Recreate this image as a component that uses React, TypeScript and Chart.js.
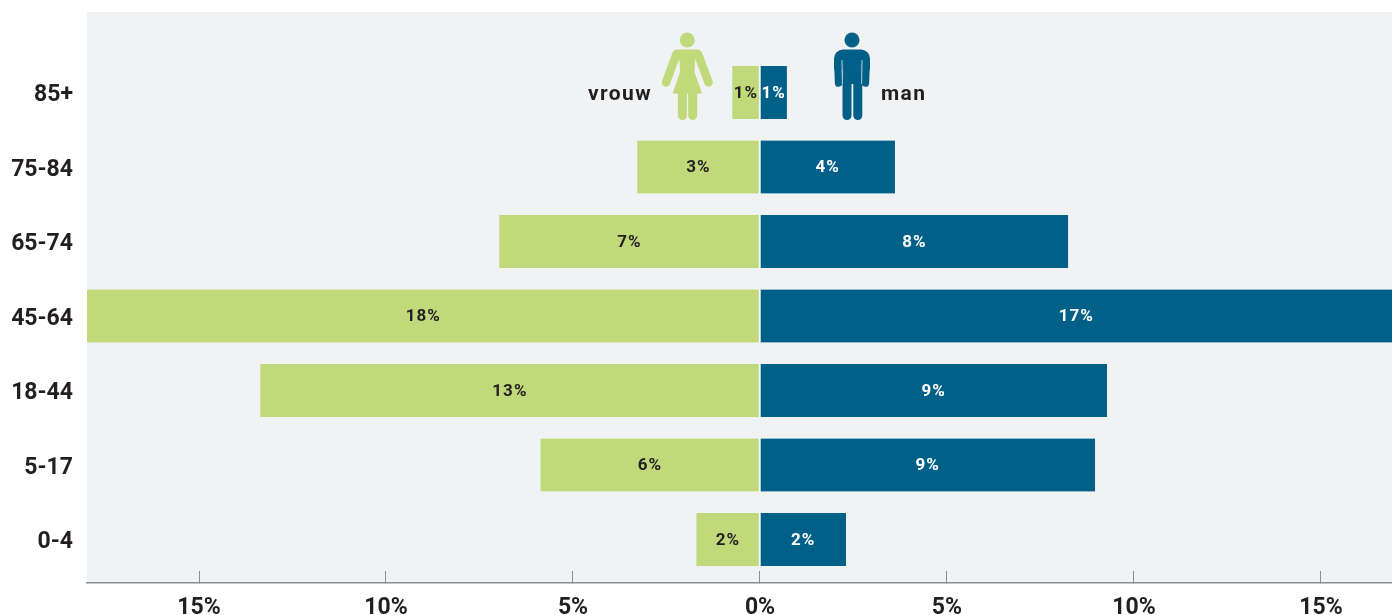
import React, { useEffect, useRef } from "react";
import { Chart, registerables } from "chart.js";

Chart.register(...registerables);

const ageGroups = ["85+", "75-84", "65-74", "45-64", "18-44", "5-17", "0-4"];
const womenShare = [0.74, 3.28, 6.97, 18.0, 13.36, 5.87, 1.7];
const menShare = [0.72, 3.61, 8.24, 17.0, 9.28, 8.96, 2.3];
const womenLabels = ["1%", "3%", "7%", "18%", "13%", "6%", "2%"];
const menLabels = ["1%", "4%", "8%", "17%", "9%", "9%", "2%"];
const axisTicks = [-15, -10, -5, 0, 5, 10, 15];

const GREEN = "#c0da7b";
const BLUE = "#006088";
const PANEL = "#f1f2f4";
const INK = "#231f20";
const AXIS = "#8a8c8e";
const FONT = "Roboto, sans-serif";

const panelPlugin = {
  id: "panel",
  beforeDraw(chart: any) {
    const { ctx, chartArea: a } = chart;
    ctx.save();
    ctx.fillStyle = PANEL;
    ctx.fillRect(a.left, a.top, a.right - a.left, a.bottom - a.top);
    ctx.restore();
  },
};

function drawWoman(ctx: CanvasRenderingContext2D) {
  ctx.save();
  ctx.fillStyle = GREEN;
  ctx.strokeStyle = GREEN;
  ctx.lineCap = "round";
  ctx.beginPath();
  ctx.arc(687.3, 40, 7.5, 0, Math.PI * 2);
  ctx.fill();
  ctx.lineWidth = 8.5;
  ctx.beginPath();
  ctx.moveTo(676.5, 54);
  ctx.lineTo(666, 82.5);
  ctx.moveTo(698, 54);
  ctx.lineTo(708.6, 82.5);
  ctx.stroke();
  ctx.beginPath();
  ctx.moveTo(676, 49.5);
  ctx.lineTo(698.5, 49.5);
  ctx.lineTo(695, 61);
  ctx.lineTo(694.5, 72);
  ctx.lineTo(702, 93.5);
  ctx.lineTo(672.7, 93.5);
  ctx.lineTo(680, 72);
  ctx.lineTo(679.5, 61);
  ctx.closePath();
  ctx.fill();
  ctx.lineWidth = 9;
  ctx.beginPath();
  ctx.moveTo(682.4, 93);
  ctx.lineTo(682.4, 115.5);
  ctx.moveTo(692.7, 93);
  ctx.lineTo(692.7, 115.5);
  ctx.stroke();
  ctx.restore();
}

function drawMan(ctx: CanvasRenderingContext2D) {
  ctx.save();
  ctx.fillStyle = BLUE;
  ctx.strokeStyle = BLUE;
  ctx.lineCap = "round";
  ctx.beginPath();
  ctx.arc(852, 40, 7.5, 0, Math.PI * 2);
  ctx.fill();
  ctx.beginPath();
  ctx.roundRect(834, 49.5, 36, 20, [9, 9, 0, 0]);
  ctx.fill();
  ctx.fillRect(842.5, 60, 20, 24);
  ctx.lineWidth = 7.5;
  ctx.beginPath();
  ctx.moveTo(837.8, 62);
  ctx.lineTo(838.6, 83);
  ctx.moveTo(866.2, 62);
  ctx.lineTo(865.4, 83);
  ctx.stroke();
  ctx.lineWidth = 9;
  ctx.beginPath();
  ctx.moveTo(847, 80);
  ctx.lineTo(847, 115.5);
  ctx.moveTo(857.8, 80);
  ctx.lineTo(857.8, 115.5);
  ctx.stroke();
  ctx.strokeStyle = "#b9cfdb";
  ctx.lineWidth = 1;
  ctx.lineCap = "butt";
  ctx.beginPath();
  ctx.moveTo(842, 60);
  ctx.lineTo(842.4, 84);
  ctx.moveTo(862, 60);
  ctx.lineTo(861.6, 84);
  ctx.stroke();
  ctx.restore();
}

const annotationPlugin = {
  id: "annotations",
  afterDatasetsDraw(chart: any) {
    const { ctx } = chart;
    ctx.save();
    ctx.textBaseline = "middle";
    ctx.textAlign = "center";
    ctx.font = `700 17px ${FONT}`;
    (ctx as any).letterSpacing = "1px";
    const lists = [womenLabels, menLabels];
    const colors = [INK, "#ffffff"];
    const area = chart.chartArea;
    chart.data.datasets.forEach((_: any, d: number) => {
      chart.getDatasetMeta(d).data.forEach((bar: any, i: number) => {
        const { x, base, y } = bar.getProps(["x", "base", "y"], true);
        const edge = Math.min(area.right, Math.max(area.left, x));
        ctx.fillStyle = colors[d];
        ctx.fillText(lists[d][i], (edge + base) / 2, y + 1);
      });
    });
    ctx.font = `700 21px ${FONT}`;
    (ctx as any).letterSpacing = "1.4px";
    ctx.fillStyle = INK;
    ctx.textAlign = "left";
    ctx.fillText(chart.data.datasets[0].label, 588, 95);
    ctx.fillText(chart.data.datasets[1].label, 881, 95);
    ctx.restore();
    drawWoman(ctx);
    drawMan(ctx);
  },
};

const clearScalePadding = (s: any) => {
  s.paddingTop = 0;
  s.paddingBottom = 0;
  s.paddingLeft = 0;
  s.paddingRight = 0;
};

export default function App() {
  const ref = useRef<HTMLCanvasElement | null>(null);

  useEffect(() => {
    const chart = new Chart(ref.current as HTMLCanvasElement, {
      type: "bar",
      data: {
        datasets: [
          {
            label: "vrouw",
            data: womenShare.map((v, i) => ({ x: -v, y: i })),
            backgroundColor: GREEN,
            borderColor: "#ffffff",
            borderWidth: { right: 1 },
            borderSkipped: false,
          },
          {
            label: "man",
            data: menShare.map((v, i) => ({ x: v, y: i })),
            backgroundColor: BLUE,
            borderColor: "#ffffff",
            borderWidth: { left: 0.5 },
            borderSkipped: false,
          },
        ],
      } as any,
      options: {
        indexAxis: "y",
        animation: false,
        responsive: false,
        events: [],
        layout: { padding: { top: 12, right: 0, bottom: 0, left: 0 } },
        datasets: { bar: { barThickness: 53, grouped: false } },
        plugins: { legend: { display: false }, tooltip: { enabled: false } },
        scales: {
          x: {
            type: "linear",
            min: -17.995,
            max: 16.9,
            afterBuildTicks: (s: any) => {
              s.ticks = axisTicks.map((value) => ({ value }));
            },
            afterFit: (s: any) => {
              s.height = 32;
              clearScalePadding(s);
            },
            border: { display: true, color: AXIS, width: 1.5 },
            grid: {
              drawOnChartArea: false,
              drawTicks: true,
              tickLength: -12,
              tickColor: AXIS,
              tickWidth: 1,
            },
            ticks: {
              autoSkip: false,
              maxRotation: 0,
              padding: 23,
              color: INK,
              font: { family: FONT, weight: 700, size: 23 },
              callback: (v: any) => `${Math.abs(Number(v))}%`,
            },
          },
          y: {
            type: "linear",
            reverse: true,
            offset: false,
            min: -1.08,
            max: 6.584,
            afterBuildTicks: (s: any) => {
              s.ticks = ageGroups.map((_, value) => ({ value }));
            },
            afterFit: (s: any) => {
              s.width = 87;
              clearScalePadding(s);
            },
            border: { display: false },
            grid: { display: false, offset: false, drawTicks: false },
            ticks: {
              autoSkip: false,
              padding: 14,
              labelOffset: 3,
              color: INK,
              font: { family: FONT, weight: 700, size: 23 },
              callback: (v: any) => ageGroups[Number(v)] ?? "",
            },
          },
        },
      } as any,
      plugins: [panelPlugin, annotationPlugin],
    });
    return () => chart.destroy();
  }, []);

  return (
    <div style={{ position: "fixed", left: 0, top: 0, width: 1392, height: 615, background: "#ffffff" }}>
      <canvas ref={ref} width={1392} height={615} style={{ display: "block" }} />
    </div>
  );
}
